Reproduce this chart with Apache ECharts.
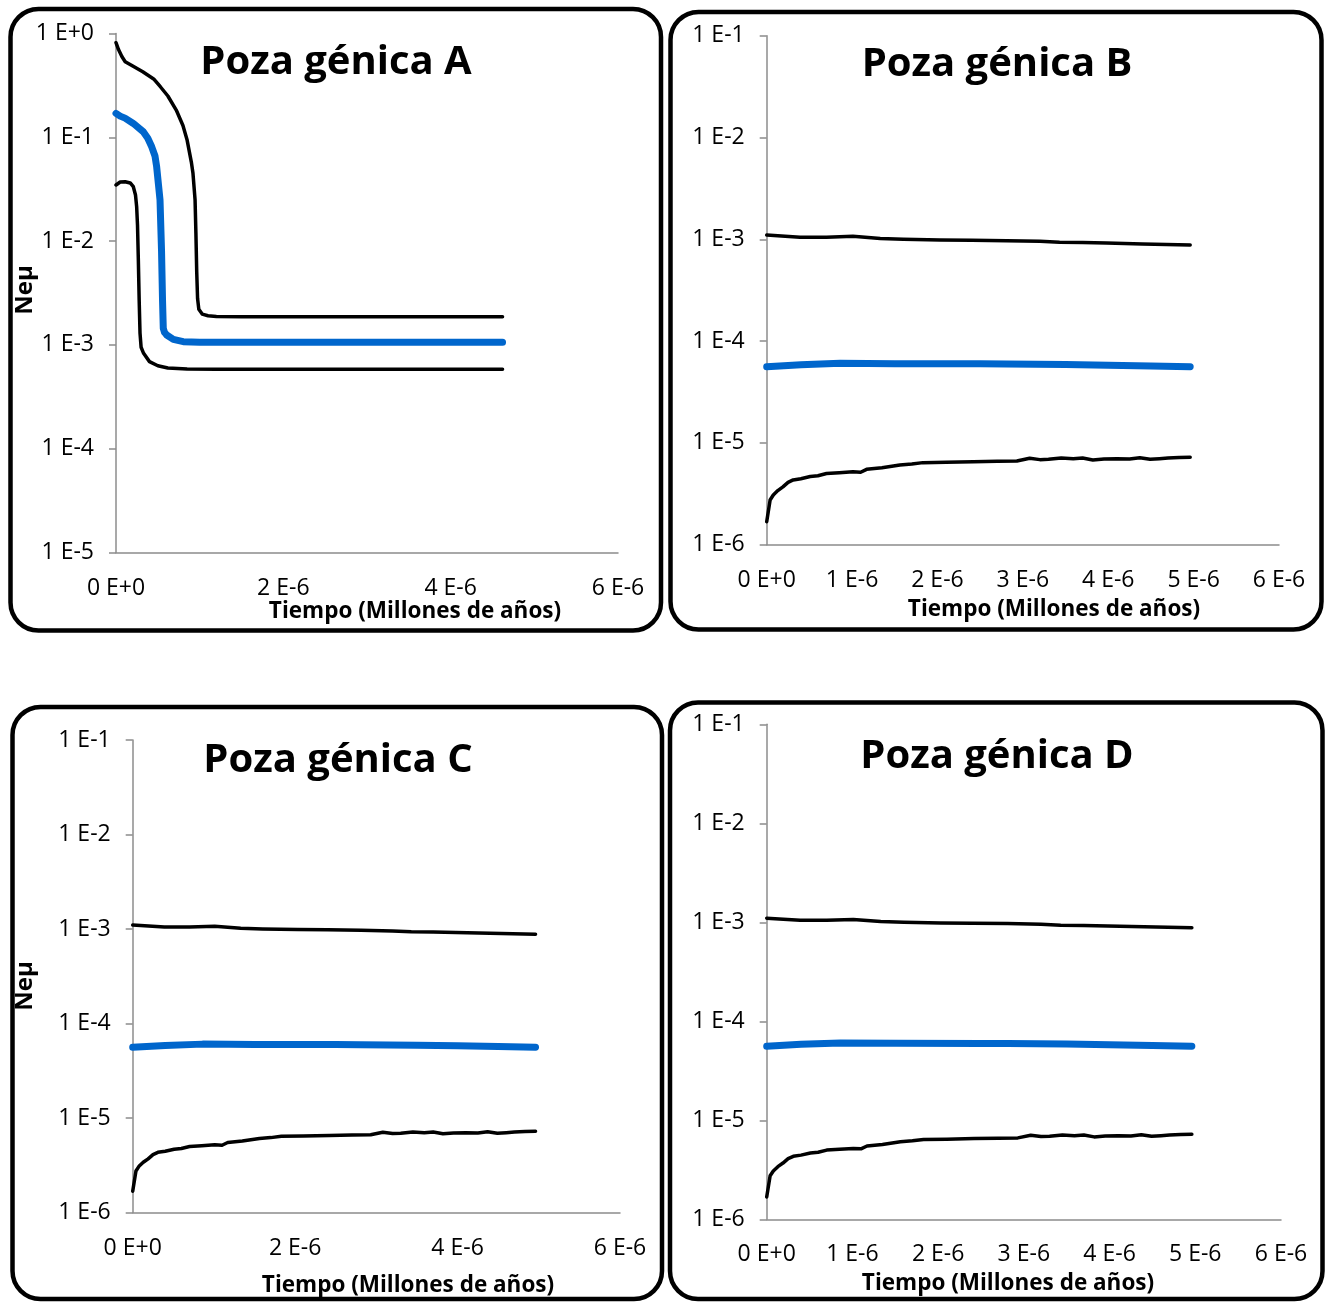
<!DOCTYPE html>
<html>
<head>
<meta charset="utf-8">
<script src="https://cdn.jsdelivr.net/npm/echarts@6/dist/echarts.min.js"></script>
<style>
html,body{margin:0;padding:0;background:#fff;}
#c{width:1328px;height:1302px;}
</style>
</head>
<body>
<div id="c"></div>
<script>
// ---- Data (x in units of 1E-6, "Tiempo (Millones de años)") ----
const panelTitles = ['Poza génica A', 'Poza génica B', 'Poza génica C', 'Poza génica D'];
const xAxisName = 'Tiempo (Millones de años)';
const yAxisName = 'Neμ';

// Panel A
const aUpperX = [0, 0.03, 0.07, 0.11, 0.2, 0.32, 0.45, 0.53, 0.62, 0.72, 0.8, 0.85, 0.9, 0.92, 0.945, 0.955, 0.965, 0.975, 0.99, 1.03, 1.1, 1.2, 1.5, 2.5, 3.5, 4.62];
const aUpperY = [0.815, 0.70, 0.60, 0.535, 0.486, 0.428, 0.365, 0.307, 0.25, 0.183, 0.13, 0.094, 0.058, 0.045, 0.025, 0.012, 5.0e-3, 2.8e-3, 2.2e-3, 1.98e-3, 1.91e-3, 1.88e-3, 1.87e-3, 1.87e-3, 1.87e-3, 1.87e-3];
const aMidX = [0, 0.05, 0.108, 0.207, 0.326, 0.38, 0.427, 0.466, 0.486, 0.508, 0.526, 0.544, 0.556, 0.565, 0.58, 0.606, 0.685, 0.804, 1.0, 2.5, 3.5, 4.62];
const aMidY = [0.170, 0.160, 0.153, 0.136, 0.113, 0.098, 0.081, 0.066, 0.052, 0.0347, 0.025, 8.2e-3, 2.71e-3, 1.45e-3, 1.32e-3, 1.245e-3, 1.13e-3, 1.074e-3, 1.06e-3, 1.06e-3, 1.06e-3, 1.06e-3];
const aLowX = [0, 0.05, 0.11, 0.17, 0.207, 0.233, 0.247, 0.257, 0.267, 0.277, 0.287, 0.30, 0.33, 0.4, 0.5, 0.62, 0.85, 1.2, 2.5, 3.5, 4.62];
const aLowY = [0.0347, 0.0371, 0.0373, 0.0363, 0.0334, 0.0278, 0.0214, 0.0143, 6.6e-3, 2.7e-3, 1.3e-3, 9.5e-4, 8.3e-4, 6.9e-4, 6.3e-4, 6.0e-4, 5.85e-4, 5.82e-4, 5.82e-4, 5.82e-4, 5.82e-4];

// Panels B, C, D (same curves)
const bUpperX = [0, 0.39, 0.7, 1.01, 1.33, 1.6, 2.03, 2.4, 2.81, 3.2, 3.43, 3.7, 3.98, 4.4, 4.96];
const bUpperY = [1.10e-3, 1.05e-3, 1.05e-3, 1.07e-3, 1.02e-3, 1.0e-3, 0.985e-3, 0.98e-3, 0.97e-3, 0.955e-3, 0.935e-3, 0.93e-3, 0.92e-3, 0.90e-3, 0.88e-3];
const bMidX = [0, 0.4, 0.86, 1.5, 2.5, 2.81, 3.5, 4.0, 4.5, 4.96];
const bMidY = [5.6e-5, 5.85e-5, 6.05e-5, 6.0e-5, 5.98e-5, 5.96e-5, 5.9e-5, 5.8e-5, 5.7e-5, 5.6e-5];
const bLowX = [0, 0.04, 0.077, 0.13, 0.19, 0.25, 0.31, 0.4, 0.51, 0.6, 0.70, 0.85, 1.01, 1.1, 1.17, 1.35, 1.56, 1.7, 1.83, 2.1, 2.42, 2.7, 2.93, 3.08, 3.2, 3.3, 3.45, 3.59, 3.7, 3.82, 3.95, 4.1, 4.25, 4.37, 4.49, 4.6, 4.7, 4.83, 4.96];
const bLowY = [1.68e-6, 2.75e-6, 3.08e-6, 3.4e-6, 3.7e-6, 4.1e-6, 4.33e-6, 4.45e-6, 4.67e-6, 4.75e-6, 5.0e-6, 5.1e-6, 5.2e-6, 5.15e-6, 5.5e-6, 5.7e-6, 6.07e-6, 6.2e-6, 6.4e-6, 6.45e-6, 6.54e-6, 6.6e-6, 6.64e-6, 7.06e-6, 6.85e-6, 6.9e-6, 7.1e-6, 7.0e-6, 7.1e-6, 6.8e-6, 6.95e-6, 7.0e-6, 6.95e-6, 7.15e-6, 6.9e-6, 7.0e-6, 7.1e-6, 7.2e-6, 7.22e-6];

// ---- Layout ----
const FONT = '"Open Sans", sans-serif';
const panels = [
  {grid: {left: 116, top: 33.5, width: 502, height: 519}, ymin: 1e-5, ymax: 1, xint: 2,
   box: [10.5, 9, 650.5, 621.5], title: [336, 62.5], xname: [415, 612], yname: [25, 290],
   series: [[aUpperX, aUpperY, 'k'], [aMidX, aMidY, 'b'], [aLowX, aLowY, 'k']]},
  {grid: {left: 766.7, top: 35.7, width: 512.3, height: 509}, ymin: 1e-6, ymax: 1e-1, xint: 1,
   box: [670.5, 12, 651, 617.5], title: [997, 64.5], xname: [1054, 610], yname: null,
   series: [[bUpperX, bUpperY, 'k'], [bMidX, bMidY, 'b'], [bLowX, bLowY, 'k']]},
  {grid: {left: 132.7, top: 740, width: 487.3, height: 472.5}, ymin: 1e-6, ymax: 1e-1, xint: 2,
   box: [12.5, 707, 649.5, 592], title: [338, 760.5], xname: [408, 1286], yname: [25, 986],
   series: [[bUpperX, bUpperY, 'k'], [bMidX, bMidY, 'b'], [bLowX, bLowY, 'k']]},
  {grid: {left: 766.7, top: 724.3, width: 514.3, height: 495}, ymin: 1e-6, ymax: 1e-1, xint: 1,
   box: [670, 702.5, 652.5, 596.5], title: [997, 756.5], xname: [1008, 1284], yname: null,
   series: [[bUpperX, bUpperY, 'k'], [bMidX, bMidY, 'b'], [bLowX, bLowY, 'k']]}
];

function fmtX(v) {
  if (Math.abs(v) < 1e-9) return '0 E+0';
  return Math.round(v) + ' E-6';
}
function fmtY(v) {
  const e = Math.round(Math.log10(v));
  return '1 E' + (e >= 0 ? '+' : '-') + Math.abs(e);
}

const grids = [], xAxes = [], yAxes = [], series = [], graphics = [];
panels.forEach((p, i) => {
  grids.push(Object.assign({containLabel: false}, p.grid));
  xAxes.push({
    type: 'value', gridIndex: i, min: 0, max: 6, interval: p.xint,
    axisLine: {show: true, onZero: false, lineStyle: {color: '#8c8c8c', width: 1.5}},
    axisTick: {show: false},
    splitLine: {show: false},
    axisLabel: {formatter: fmtX, color: '#000', fontFamily: FONT, fontSize: 23, margin: 24}
  });
  yAxes.push({
    type: 'log', logBase: 10, gridIndex: i, min: p.ymin, max: p.ymax,
    axisLine: {show: true, lineStyle: {color: '#8c8c8c', width: 1.5}},
    axisTick: {show: true, length: 7, lineStyle: {color: '#8c8c8c', width: 1.5}},
    splitLine: {show: false},
    axisLabel: {formatter: fmtY, color: '#000', fontFamily: FONT, fontSize: 23, margin: 22, padding: [4, 0, 0, 0]}
  });
  p.series.forEach(s => {
    const isBlue = s[2] === 'b';
    series.push({
      type: 'line', xAxisIndex: i, yAxisIndex: i, showSymbol: false, symbol: 'none',
      data: s[0].map((x, k) => [x, s[1][k]]),
      lineStyle: {color: isBlue ? '#0066CC' : '#000', width: isBlue ? 7 : 3.5, cap: 'round', join: 'round'},
      z: isBlue ? 3 : 2, silent: true, animation: false
    });
  });
  graphics.push({
    type: 'rect', shape: {x: p.box[0], y: p.box[1], width: p.box[2], height: p.box[3], r: 28},
    style: {fill: 'none', stroke: '#000', lineWidth: 4.5}, z: 10, silent: true
  });
  graphics.push({
    type: 'text', x: p.title[0], y: p.title[1],
    style: {text: panelTitles[i], fill: '#000', font: 'bold 40px ' + FONT, textAlign: 'center', textVerticalAlign: 'middle'},
    z: 10, silent: true
  });
  graphics.push({
    type: 'text', x: p.xname[0], y: p.xname[1],
    style: {text: xAxisName, fill: '#000', font: 'bold 22.5px ' + FONT, textAlign: 'center', textVerticalAlign: 'middle'},
    z: 10, silent: true
  });
  if (p.yname) {
    graphics.push({
      type: 'text', x: p.yname[0], y: p.yname[1], rotation: Math.PI / 2,
      style: {text: yAxisName, fill: '#000', font: 'bold 24px ' + FONT, textAlign: 'center', textVerticalAlign: 'middle'},
      z: 10, silent: true
    });
  }
});

const chart = echarts.init(document.getElementById('c'));
chart.setOption({
  animation: false,
  backgroundColor: '#fff',
  grid: grids, xAxis: xAxes, yAxis: yAxes, series: series,
  graphic: graphics
});
</script>
</body>
</html>
